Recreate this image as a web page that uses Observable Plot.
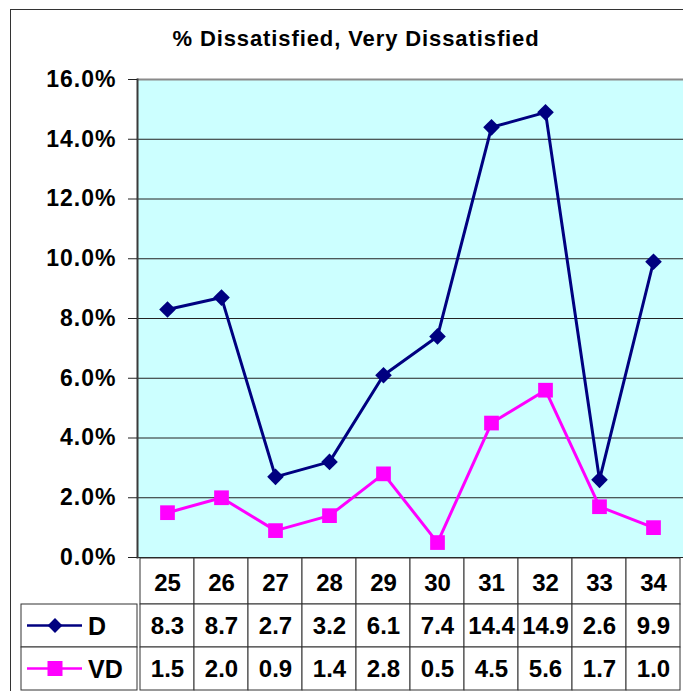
<!DOCTYPE html>
<html><head><meta charset="utf-8">
<script src="https://cdn.jsdelivr.net/npm/d3@7"></script>
<script src="https://cdn.jsdelivr.net/npm/@observablehq/plot@0.6"></script>
<style>
body{margin:0;background:#fff;}
#wrap{position:relative;width:683px;height:691px;overflow:hidden;background:#fff;font-family:"Liberation Sans",Arial,sans-serif;}
#border{position:absolute;left:10px;top:9px;width:740px;height:740px;border:1.5px solid #333;box-sizing:border-box;}
#title{position:absolute;left:0;top:28px;width:712px;text-align:center;font-weight:bold;font-size:22px;line-height:22px;letter-spacing:0.9px;color:#000;}
#chart{position:absolute;left:0;top:0;}
#table{position:absolute;left:0;top:557px;}
</style>
</head><body>
<div id="wrap">
  <div id="border"></div>
  <div id="title">% Dissatisfied, Very Dissatisfied</div>
  <div id="chart"></div>
  <div id="table"></div>
</div>
<script>
const categories = ["25","26","27","28","29","30","31","32","33","34"];
const dValues = [8.3, 8.7, 2.7, 3.2, 6.1, 7.4, 14.4, 14.9, 2.6, 9.9];
const vdValues = [1.5, 2.0, 0.9, 1.4, 2.8, 0.5, 4.5, 5.6, 1.7, 1.0];
const yTicks = [0, 0.02, 0.04, 0.06, 0.08, 0.10, 0.12, 0.14, 0.16];
const seriesNames = ["D", "VD"];
const seriesColors = ["#000080", "#FF00FF"];

const FONT = "'Liberation Sans', Arial, sans-serif";
const data = categories.map((c, i) => ({cat: c, D: dValues[i] / 100, VD: vdValues[i] / 100}));

const chart = Plot.plot({
  width: 683, height: 691,
  marginLeft: 137, marginRight: 0, marginTop: 79, marginBottom: 134,
  style: {background: "transparent", fontFamily: FONT, fontSize: "23px", fontWeight: "bold", color: "#000", letterSpacing: "1px"},
  x: {type: "point", domain: categories, padding: 0.5, axis: null},
  y: {domain: [0, 0.16], axis: null},
  marks: [
    Plot.frame({fill: "#CCFFFF", stroke: "none"}),
    Plot.ruleY(yTicks.slice(1, -1), {stroke: "#222", strokeWidth: 1}),
    Plot.ruleY([0.16], {stroke: "#8a8a8a", strokeWidth: 2}),
    Plot.ruleY([0], {stroke: "#222", strokeWidth: 1}),
    Plot.frame({anchor: "left", stroke: "#3a3a3a", strokeWidth: 2}),
    Plot.axisY({ticks: yTicks, tickFormat: d3.format(".1%"), tickSize: 9, tickPadding: 12, label: null, stroke: "#222"}),
    Plot.line(data, {x: "cat", y: "D", stroke: seriesColors[0], strokeWidth: 3}),
    Plot.dot(data, {x: "cat", y: "D", symbol: "diamond2", fill: seriesColors[0], stroke: "none", r: 7.5}),
    Plot.line(data, {x: "cat", y: "VD", stroke: seriesColors[1], strokeWidth: 3}),
    Plot.dot(data, {x: "cat", y: "VD", symbol: "square", fill: seriesColors[1], stroke: "none", r: 8.3})
  ]
});
document.getElementById("chart").appendChild(chart);

const rows = ["hdr", "D", "VD"];
const cells = [];
categories.forEach((c, i) => {
  cells.push({cat: c, row: "hdr", text: c});
  cells.push({cat: c, row: "D", text: dValues[i].toFixed(1)});
  cells.push({cat: c, row: "VD", text: vdValues[i].toFixed(1)});
});

const table = Plot.plot({
  width: 683, height: 134,
  marginLeft: 137, marginRight: 0, marginTop: 3, marginBottom: 0,
  style: {background: "transparent", fontFamily: FONT, color: "#000"},
  x: {type: "band", domain: categories, padding: 0, axis: null},
  y: {type: "band", domain: rows, padding: 0, axis: null},
  marks: [
    Plot.cell(cells.filter(d => d.row === "hdr"), {x: "cat", y: "row", fill: "white", stroke: "#333", insetTop: -3}),
    Plot.cell(cells.filter(d => d.row !== "hdr"), {x: "cat", y: "row", fill: "white", stroke: "#333"}),
    Plot.text(cells, {x: "cat", y: "row", text: "text", fontSize: 24, fontWeight: "bold", fill: "#000"})
  ]
});
document.getElementById("table").appendChild(table);

// Legend keys in the data table's first column
const ys = table.scale("y");
const svg = d3.select(table);
const g = svg.append("g").attr("text-anchor", "start");
seriesNames.forEach((s, i) => {
  const y0 = ys.apply(s);
  const bw = ys.bandwidth;
  const cy = y0 + bw / 2;
  g.append("rect").attr("x", 21).attr("y", y0).attr("width", 116).attr("height", bw)
    .attr("fill", "white").attr("stroke", "#333");
  g.append("line").attr("x1", 27).attr("x2", 82).attr("y1", cy).attr("y2", cy)
    .attr("stroke", seriesColors[i]).attr("stroke-width", 2.5);
  g.append("path").attr("transform", `translate(55,${cy})`)
    .attr("d", d3.symbol(i === 0 ? d3.symbolDiamond2 : d3.symbolSquare, i === 0 ? 140 : 225)())
    .attr("fill", seriesColors[i]);
  g.append("text").attr("x", 88).attr("y", cy).attr("dy", "0.36em").attr("text-anchor", "start")
    .attr("font-size", 25).attr("font-weight", "bold").attr("fill", "#000").text(s);
});
</script>
</body></html>
